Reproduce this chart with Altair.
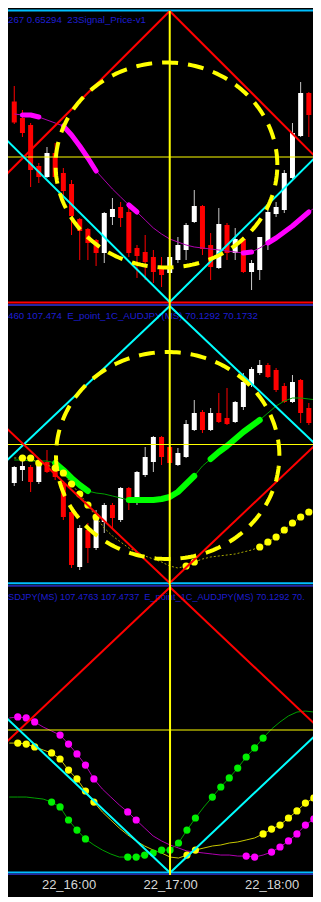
import altair as alt
import numpy as np
import pandas as pd

# ---------------- time axis: 5-minute bars ----------------
first_bar = "2019-08-22 15:25"
n_bars = 38
tick_times = ["2019-08-22 16:00", "2019-08-22 17:00", "2019-08-22 18:00"]
view_first, view_last = -0.154, 35.898          # visible span, in bars
marker_bar = 19                                   # 17:00 vertical line
diamond_half = 17.84                              # diamond half width, in bars

# ---------------- panel 1: 23Signal_Price-v1 ----------------
p1_label = "267 0.65294 \u00a023Signal_Price-v1"
p1_open = [0.65405,0.65372,0.65358,0.65276,0.65254,0.65302,0.65262,0.65240,0.65170,0.65150,
           0.65128,0.65102,0.65174,0.65194,0.65184,0.65112,0.65104,0.65094,0.65074,0.65062,
           0.65088,0.65108,0.65164,0.65196,0.65118,0.65072,0.65158,0.65102,0.65130,0.65064,
           0.65068,0.65124,0.65180,0.65188,0.65252,0.65336,0.65422,0.65388]
p1_high = [0.65436,0.65388,0.65362,0.65282,0.65314,0.65322,0.65272,0.65248,0.65172,0.65152,
           0.65130,0.65184,0.65212,0.65204,0.65194,0.65118,0.65138,0.65108,0.65094,0.65102,
           0.65134,0.65162,0.65228,0.65198,0.65142,0.65192,0.65162,0.65152,0.65134,0.65088,
           0.65134,0.65192,0.65204,0.65268,0.65362,0.65444,0.65424,0.65398]
p1_low = [0.65360,0.65334,0.65234,0.65242,0.65252,0.65252,0.65214,0.65138,0.65088,0.65088,
          0.65076,0.65082,0.65158,0.65154,0.65094,0.65052,0.65048,0.65042,0.65034,0.65048,
          0.65082,0.65088,0.65162,0.65098,0.65048,0.65070,0.65088,0.65088,0.65062,0.65028,
          0.65048,0.65108,0.65174,0.65182,0.65250,0.65334,0.65334,0.65288]
p1_close = [0.65363,0.65342,0.65268,0.65254,0.65302,0.65254,0.65226,0.65176,0.65146,0.65122,
            0.65102,0.65182,0.65190,0.65172,0.65102,0.65096,0.65084,0.65064,0.65058,0.65094,
            0.65118,0.65158,0.65196,0.65110,0.65074,0.65160,0.65102,0.65130,0.65064,0.65082,
            0.65134,0.65184,0.65194,0.65262,0.65342,0.65422,0.65378,0.65294]
p1_ma = [0.65380,0.65378,0.65378,0.65374,0.65368,0.65362,0.65356,0.65338,0.65316,0.65292,
         0.65266,0.65248,0.65230,0.65214,0.65198,0.65184,0.65168,0.65152,0.65140,0.65130,
         0.65124,0.65118,0.65114,0.65112,0.65110,0.65108,0.65106,0.65104,0.65102,0.65104,
         0.65112,0.65122,0.65132,0.65144,0.65156,0.65170,0.65184,0.65196]
p1_domain = [0.65000, 0.65592]
p1_diamond = dict(top=0.65586, mid=0.65294, bot=0.65004)
p1_ellipse = dict(center_bar=18.6, half_bars=13.55, center=0.65278, half=0.00205)
p1_hlines = [(0.65587, "#00BFFF"), (0.65003, "#FF0000")]

# ---------------- panel 2: E_point_1C_AUDJPY(MS) ----------------
p2_label = "460 107.474 \u00a0E_point_1C_AUDJPY(MS) 70.1292 70.1732"
p2_open = [70.102,70.115,70.118,70.103,70.123,70.118,70.102,70.073,70.018,70.055,
           70.037,70.063,70.080,70.065,70.097,70.082,70.110,70.123,70.148,70.138,
           70.120,70.128,70.155,70.173,70.155,70.172,70.167,70.163,70.178,70.200,
           70.212,70.220,70.215,70.199,70.183,70.205,70.177,70.165]
p2_high = [70.119,70.128,70.120,70.124,70.135,70.121,70.104,70.074,70.060,70.062,
           70.075,70.082,70.082,70.098,70.098,70.114,70.138,70.149,70.149,70.142,
           70.137,70.165,70.185,70.175,70.177,70.192,70.197,70.184,70.212,70.218,
           70.225,70.222,70.217,70.202,70.210,70.206,70.182,70.167]
p2_low = [70.099,70.104,70.093,70.101,70.112,70.105,70.065,70.017,70.015,70.022,
          70.035,70.052,70.057,70.063,70.075,70.080,70.108,70.113,70.120,70.120,
          70.119,70.127,70.154,70.152,70.154,70.162,70.160,70.162,70.175,70.198,
          70.210,70.207,70.193,70.182,70.182,70.162,70.160,70.138]
p2_close = [70.118,70.119,70.103,70.122,70.113,70.108,70.068,70.020,70.057,70.037,
            70.068,70.080,70.067,70.097,70.083,70.113,70.128,70.148,70.128,70.122,
            70.132,70.161,70.172,70.155,70.172,70.163,70.161,70.183,70.203,70.216,
            70.220,70.208,70.195,70.183,70.203,70.172,70.162,70.140]
p2_green = [70.125,70.125,70.124,70.124,70.124,70.122,70.115,70.107,70.100,70.094,
            70.092,70.091,70.089,70.087,70.085,70.085,70.085,70.085,70.086,70.088,
            70.093,70.101,70.109,70.119,70.126,70.133,70.139,70.146,70.153,70.159,
            70.165,70.172,70.179,70.184,70.187,70.187,70.186,70.185]
p2_yellow = [70.127,70.127,70.127,70.122,70.120,70.117,70.112,70.101,70.091,70.080,
             70.068,70.057,70.049,70.043,70.037,70.033,70.029,70.026,70.023,70.019,
             70.017,70.019,70.023,70.026,70.028,70.029,70.030,70.031,70.033,70.035,
             70.038,70.043,70.048,70.055,70.062,70.068,70.073,70.077]
p2_domain = [70.000, 70.281]
p2_diamond = dict(top=70.279, mid=70.1405, bot=70.002)
p2_ellipse = dict(center_bar=18.75, half_bars=13.65, center=70.1295, half=0.1035)
p2_hlines = [(70.280, "#2626A6"), (70.0017, "#00BFFF")]

# ---------------- panel 3: oscillator ----------------
p3_label = "SDJPY(MS) 107.4763 107.4737 \u00a0E_point_1C_AUDJPY(MS) 70.1292 70."
p3_magenta = [8.4,9.1,8.4,5.6,2.1,-0.7,-3.5,-9.8,-16.7,-24.4,-34.1,-41.1,-46.7,-52.2,-57.1,
              -62.7,-68.3,-73.8,-77.3,-80.1,-82.2,-84.3,-85.0,-85.7,-86.4,-87.1,-87.1,-87.8,
              -87.8,-88.5,-87.1,-85.0,-81.5,-77.3,-72.4,-66.2,-62.0,-59.2]
p3_yellow = [-9.1,-9.1,-9.8,-11.8,-13.9,-16.0,-20.2,-27.9,-34.1,-42.5,-50.2,-57.1,-62.7,-68.3,
             -73.1,-77.3,-80.8,-83.6,-85.7,-88.5,-89.2,-87.1,-83.6,-82.2,-80.8,-80.1,-78.7,
             -78.0,-76.6,-75.2,-72.4,-69.0,-66.2,-61.3,-56.4,-50.9,-47.4,-46.0]
p3_green = [-46.7,-46.7,-46.7,-47.4,-48.1,-50.2,-53.6,-62.7,-69.7,-75.9,-80.1,-83.6,-86.4,-88.5,
            -88.5,-88.5,-87.1,-85.7,-83.6,-83.6,-78.7,-69.7,-61.3,-53.6,-46.7,-39.7,-33.4,
            -26.5,-18.8,-12.5,-5.6,0.7,5.6,9.8,12.5,13.2,12.5,11.8]
magenta_on = [0,1,1,1,0,0,1,1,1,1,1,0,0,0,1,1,0,0,0,0,0,0,0,0,0,0,0,0,1,1,0,1,1,1,1,1,1,0]
yellow_on = [0,1,1,1,0,1,1,1,1,1,1,0,0,0,0,0,0,0,0,0,0,1,1,0,0,0,0,0,0,0,1,1,1,1,1,1,1,0]
green_on = [0,0,0,0,0,1,1,1,1,1,0,0,0,0,1,1,1,1,1,1,1,1,1,0,1,1,1,1,1,1,1,0,0,0,0,0,0,0]
p3_domain = [-101.0, 101.0]
p3_diamond = dict(top=99.5, mid=0.0, bot=-99.5)
p3_hlines = [(100.5, "#2626A6"), (-99.3, "#00BFFF"), (-100.65, "#2626A6")]

# ---------------- helpers ----------------
W = 305
T0 = pd.Timestamp(first_bar, tz="UTC").value // 10**6
BAR_MS = 5 * 60 * 1000


def t_ms(i):
    return int(T0 + i * BAR_MS)


bar_t = [t_ms(i) for i in range(n_bars)]
tick_ms = [int(pd.Timestamp(s, tz="UTC").value // 10**6) for s in tick_times]
xscale = alt.Scale(type="utc", domain=[t_ms(view_first), t_ms(view_last)])
FONT = "Liberation Sans"

xaxis = alt.Axis(values=tick_ms, labelExpr="utcFormat(datum.value, '%d_%H:%M')",
                 ticks=False, domain=False, grid=False, labelPadding=3,
                 labelColor="#D8D8D8", labelFont=FONT, labelFontSize=13, title=None)
X_NONE = alt.X("t:T", scale=xscale, axis=None)
X_AXIS = alt.X("t:T", scale=xscale, axis=xaxis)


def Yf(field, dom):
    return alt.Y(f"{field}:Q", scale=alt.Scale(domain=dom, nice=False, zero=False), axis=None)


def label_layer(text, ypix, size=9.7):
    return alt.Chart(pd.DataFrame({"s": [text]})).mark_text(
        align="left", baseline="alphabetic", font=FONT, fontSize=size, color="#1E1ED2", clip=True
    ).encode(x=alt.value(0), y=alt.value(ypix), text="s:N")


def candles(o, h, l, c, dom, xe):
    df = pd.DataFrame({"t": bar_t, "open": o, "high": h, "low": l, "close": c})
    wick = alt.Chart(df).mark_rule(strokeWidth=1, clip=True).encode(
        x=xe, y=Yf("low", dom), y2="high",
        color=alt.condition("datum.close < datum.open", alt.value("#FF0000"), alt.value("#C8C8C8")))
    body = alt.Chart(df).mark_bar(size=5, clip=True).encode(
        x=xe, y=Yf("open", dom), y2="close",
        color=alt.condition("datum.close < datum.open", alt.value("#FF0000"), alt.value("#FFFFFF")))
    return [wick, body]


def runs(values, flags):
    rows, seg, prev = [], 0, 0
    for i, (v, f) in enumerate(zip(values, flags)):
        if f:
            if not prev:
                seg += 1
            rows.append({"t": bar_t[i], "v": v, "seg": seg})
        prev = f
    return pd.DataFrame(rows)


def series_line(values, dom, color, xe, width=1, dash=None):
    kw = dict(color=color, strokeWidth=width, clip=True)
    if dash:
        kw["strokeDash"] = dash
    return alt.Chart(pd.DataFrame({"t": bar_t, "v": values})).mark_line(**kw).encode(
        x=xe, y=Yf("v", dom))


def thick_line(values, flags, dom, color, width, xe):
    return alt.Chart(runs(values, flags)).mark_line(
        color=color, strokeWidth=width, strokeCap="round", strokeJoin="round", clip=True
    ).encode(x=xe, y=Yf("v", dom), detail="seg:N")


def dots(values, flags, dom, color, xe):
    df = pd.DataFrame({"t": bar_t, "v": values, "on": flags})
    df = df[df["on"] == 1]
    return alt.Chart(df).mark_circle(size=52, opacity=1, color=color, clip=True).encode(
        x=xe, y=Yf("v", dom))


def hlines(levels, dom):
    out = []
    for v, col in levels:
        out.append(alt.Chart(pd.DataFrame({"v": [v]})).mark_rule(
            color=col, strokeWidth=2, clip=True).encode(y=Yf("v", dom)))
    return out


def midline(v, dom):
    return alt.Chart(pd.DataFrame({"v": [v]})).mark_rule(
        color="#FFFF00", strokeWidth=1, clip=True).encode(y=Yf("v", dom))


def diamond(d, dom, top_col, bot_col, xe):
    rows = []
    for name, apex, col in [("top", d["top"], top_col), ("bot", d["bot"], bot_col)]:
        for side, end_i in [("L", -2.0), ("R", 40.0)]:
            frac = abs(end_i - marker_bar) / diamond_half
            rows.append(dict(line=name + side, t=t_ms(marker_bar), v=apex, col=col))
            rows.append(dict(line=name + side, t=t_ms(end_i), v=apex + (d["mid"] - apex) * frac, col=col))
    return alt.Chart(pd.DataFrame(rows)).mark_line(strokeWidth=2, clip=True).encode(
        x=xe, y=Yf("v", dom), detail="line:N", color=alt.Color("col:N", scale=None))


def vline(dom, xe, lo=None, hi=None):
    df = pd.DataFrame({"t": [t_ms(marker_bar)], "lo": [lo if lo is not None else dom[0]],
                       "hi": [hi if hi is not None else dom[1]]})
    return alt.Chart(df).mark_rule(color="#FFFF00", strokeWidth=2, clip=True).encode(
        x=xe, y=Yf("lo", dom), y2="hi")


def ellipse(e, dom, xe):
    ang = np.linspace(0, 2 * np.pi, 241)
    df = pd.DataFrame({
        "t": [t_ms(e["center_bar"] + e["half_bars"] * np.cos(a)) for a in ang],
        "v": e["center"] + e["half"] * np.sin(ang),
        "k": np.arange(len(ang)),
    })
    return alt.Chart(df).mark_line(
        color="#FFFF00", strokeWidth=4, strokeDash=[16, 10], clip=True
    ).encode(x=xe, y=Yf("v", dom), order="k:Q")


# ---------------- panel 1 ----------------
d1, xe = p1_domain, X_NONE
panel1 = alt.layer(
    label_layer(p1_label, 14.5),
    *candles(p1_open, p1_high, p1_low, p1_close, d1, xe),
    series_line(p1_ma, d1, "#B000B0", xe),
    thick_line(p1_ma, magenta_on, d1, "#FF00FF", 5, xe),
    *hlines(p1_hlines, d1),
    midline(p1_diamond["mid"], d1),
    diamond(p1_diamond, d1, "#FF0000", "#00FFFF", xe),
    vline(d1, xe, hi=p1_diamond["top"]),
    ellipse(p1_ellipse, d1, xe),
).properties(width=W, height=296)

# ---------------- panel 2 ----------------
d2 = p2_domain
panel2 = alt.layer(
    label_layer(p2_label, 14.5),
    *candles(p2_open, p2_high, p2_low, p2_close, d2, xe),
    series_line(p2_green, d2, "#00A000", xe),
    thick_line(p2_green, green_on, d2, "#00FF00", 6, xe),
    series_line(p2_yellow, d2, "#A8A800", xe, 1, [2, 2]),
    dots(p2_yellow, yellow_on, d2, "#FFFF00", xe),
    *hlines(p2_hlines, d2),
    midline(p2_diamond["mid"], d2),
    diamond(p2_diamond, d2, "#00FFFF", "#FF0000", xe),
    vline(d2, xe),
    ellipse(p2_ellipse, d2, xe),
).properties(width=W, height=281)

# ---------------- panel 3 ----------------
d3, xa = p3_domain, X_AXIS
panel3 = alt.layer(
    label_layer(p3_label, 15, 9.2),
    series_line(p3_magenta, d3, "#B000B0", xa),
    series_line(p3_yellow, d3, "#C8C800", xa),
    series_line(p3_green, d3, "#00A000", xa),
    dots(p3_magenta, magenta_on, d3, "#FF00FF", xa),
    dots(p3_yellow, yellow_on, d3, "#FFFF00", xa),
    dots(p3_green, green_on, d3, "#00F000", xa),
    *hlines(p3_hlines, d3),
    midline(p3_diamond["mid"], d3),
    diamond(p3_diamond, d3, "#FF0000", "#00FFFF", xa),
    vline(d3, xa),
).properties(width=W, height=290)

chart = alt.vconcat(panel1, panel2, panel3, spacing=0).properties(
    padding={"left": 0, "top": 0, "right": 0, "bottom": 6}
).configure(background="#000000").configure_view(strokeWidth=0)

chart.save("out.html", embed_options={"renderer": "svg", "actions": False})
